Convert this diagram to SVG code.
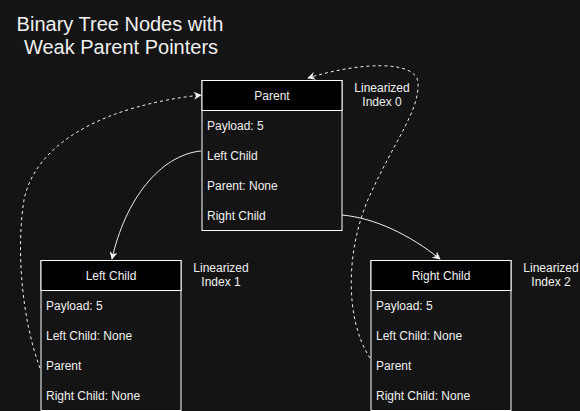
<svg xmlns="http://www.w3.org/2000/svg" width="580" height="411" viewBox="0 0 580 411">
<defs>
<style>
.bg{fill:#141414}
.box{fill:#141414;stroke:#ffffff;stroke-width:1}
.hdr{fill:#000000;stroke:#ffffff;stroke-width:1}
text{font-family:"Liberation Sans",Arial,sans-serif;fill:#f0f0f0}
.t{font-size:12px}
.c{text-anchor:middle}
.title{font-size:20px;text-anchor:middle}
.edge{fill:none;stroke:#f0f0f0;stroke-width:1}
.dash{stroke-dasharray:3 3}
</style>
<marker id="arr" viewBox="0 0 10 10" refX="9" refY="5" markerWidth="8" markerHeight="8" markerUnits="userSpaceOnUse" orient="auto">
<path d="M0,0 L10,5 L0,10 L3,5 z" fill="#f0f0f0"/>
</marker>
</defs>
<rect class="bg" x="0" y="0" width="580" height="411"/>
<g id="title">
<text class="title" x="120" y="31">Binary Tree Nodes with</text>
<text class="title" x="121" y="54">Weak Parent Pointers</text>
</g>
<g id="parent">
<rect class="box" x="202" y="80.5" width="140" height="150"/>
<rect class="hdr" x="202" y="80.5" width="140" height="30"/>
<text class="t c" x="272" y="100">Parent</text>
<text class="t" x="207" y="130">Payload: 5</text>
<text class="t" x="207" y="160">Left Child</text>
<text class="t" x="207" y="190">Parent: None</text>
<text class="t" x="207" y="220">Right Child</text>
</g>
<g id="left-child">
<rect class="box" x="41" y="260.5" width="140" height="150"/>
<rect class="hdr" x="41" y="260.5" width="140" height="30"/>
<text class="t c" x="111" y="280">Left Child</text>
<text class="t" x="46" y="310">Payload: 5</text>
<text class="t" x="46" y="340">Left Child: None</text>
<text class="t" x="46" y="370">Parent</text>
<text class="t" x="46" y="400">Right Child: None</text>
</g>
<g id="right-child">
<rect class="box" x="371" y="260.5" width="140" height="150"/>
<rect class="hdr" x="371" y="260.5" width="140" height="30"/>
<text class="t c" x="441" y="280">Right Child</text>
<text class="t" x="376" y="310">Payload: 5</text>
<text class="t" x="376" y="340">Left Child: None</text>
<text class="t" x="376" y="370">Parent</text>
<text class="t" x="376" y="400">Right Child: None</text>
</g>
<g id="label-0">
<text class="t c" x="382" y="92">Linearized</text>
<text class="t c" x="382" y="106">Index 0</text>
</g>
<g id="label-1">
<text class="t c" x="221" y="272">Linearized</text>
<text class="t c" x="221" y="286">Index 1</text>
</g>
<g id="label-2">
<text class="t c" x="551" y="272">Linearized</text>
<text class="t c" x="551" y="286">Index 2</text>
</g>
<g id="connectors">
<path class="edge" d="M201,151 C160,155 125,200 112,259" marker-end="url(#arr)"/>
<path class="edge" d="M342,215 C375,218 410,235 440,259" marker-end="url(#arr)"/>
<path class="edge dash" d="M40,368 C22,320 16,250 24,200 C36,140 110,105 201,95" marker-end="url(#arr)"/>
<path class="edge dash" d="M370,358 C345,320 345,250 370,195 C395,140 420,110 418,82 C415,60 360,62 308,78" marker-end="url(#arr)"/>
</g>
</svg>
